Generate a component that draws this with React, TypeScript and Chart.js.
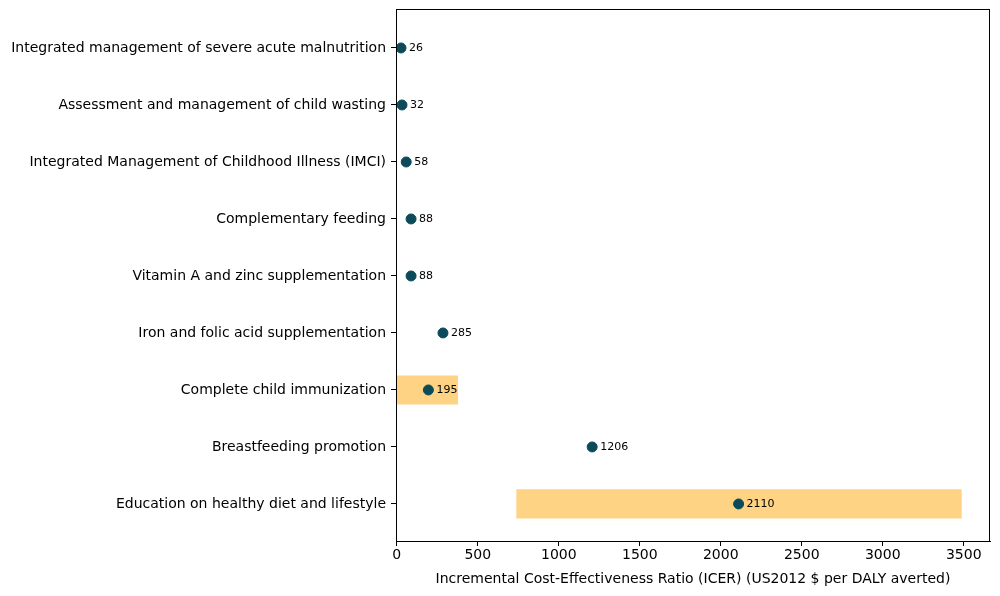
import React, { useEffect, useRef } from "react";
import { Chart, registerables } from "chart.js";

Chart.register(...registerables);

const categories = [
  "Integrated management of severe acute malnutrition",
  "Assessment and management of child wasting",
  "Integrated Management of Childhood Illness (IMCI)",
  "Complementary feeding",
  "Vitamin A and zinc supplementation",
  "Iron and folic acid supplementation",
  "Complete child immunization",
  "Breastfeeding promotion",
  "Education on healthy diet and lifestyle",
];
const icerValues = [26, 32, 58, 88, 88, 285, 195, 1206, 2110];
// uncertainty ranges (only where shown)
const rangeLow = [null, null, null, null, null, null, 0, null, 740];
const rangeHigh = [null, null, null, null, null, null, 376, null, 3485];
const xTicks = [0, 500, 1000, 1500, 2000, 2500, 3000, 3500];

const FONT = "'DejaVu Sans', sans-serif";

export default function App() {
  const ref = useRef<HTMLCanvasElement | null>(null);
  useEffect(() => {
    if (!ref.current) return;
    const rangeData = categories
      .map((_, i) => (rangeLow[i] !== null ? { y: i, x: [rangeLow[i], rangeHigh[i]] } : null))
      .filter((d) => d !== null);
    const pointData = icerValues.map((v, i) => ({ x: v, y: i }));

    const labelPlugin = {
      id: "valueLabels",
      afterDatasetsDraw(chart: any) {
        const meta = chart.getDatasetMeta(1);
        const ctx = chart.ctx;
        ctx.save();
        ctx.font = `11px ${FONT}`;
        ctx.fillStyle = "#000";
        ctx.textBaseline = "middle";
        ctx.textAlign = "left";
        meta.data.forEach((el: any, i: number) => {
          ctx.fillText(String(icerValues[i]), el.x + 8, el.y + 0.5);
        });
        ctx.restore();
      },
    };
    const framePlugin = {
      id: "frame",
      afterDraw(chart: any) {
        const { ctx, chartArea } = chart;
        ctx.save();
        ctx.strokeStyle = "#000";
        ctx.lineWidth = 1;
        ctx.strokeRect(chartArea.left + 0.5, chartArea.top + 0.5, chartArea.right - chartArea.left - 1, chartArea.bottom - chartArea.top);
        ctx.restore();
      },
    };

    const chart = new Chart(ref.current, {
      type: "bar",
      data: {
        datasets: [
          {
            type: "bar",
            indexAxis: "y",
            data: rangeData as any,
            backgroundColor: "#fed383",
            borderWidth: 0,
            barThickness: 28.5,
            order: 2,
          } as any,
          {
            type: "scatter",
            data: pointData,
            backgroundColor: "#0b4a5a",
            borderColor: "#0b4a5a",
            pointRadius: 5,
            pointHoverRadius: 5,
            order: 1,
          } as any,
        ],
      },
      options: {
        animation: false,
        responsive: false,
        indexAxis: "y",
        layout: { padding: { left: 0, right: 10, top: 9, bottom: 8 } },
        plugins: { legend: { display: false }, tooltip: { enabled: false } },
        scales: {
          x: {
            type: "linear",
            min: -5,
            max: 3662,
            offset: false,
            afterBuildTicks: (s: any) => {
              s.ticks = xTicks.map((v) => ({ value: v }));
            },
            afterFit: (s: any) => {
              s.height = 47;
              s.paddingLeft = 0;
              s.paddingRight = 0;
            },
            grid: { drawOnChartArea: false, drawTicks: true, tickLength: 5, color: "#000" },
            border: { color: "#000" },
            ticks: {
              color: "#000",
              font: { family: FONT, size: 14 },
              padding: 1,
              maxRotation: 0,
              callback: (v: any) => String(v),
            },
            title: {
              display: true,
              text: "Incremental Cost-Effectiveness Ratio (ICER) (US2012 $ per DALY averted)",
              color: "#000",
              font: { family: FONT, size: 14 },
              padding: { top: 0, bottom: 0 },
            },
          },
          y: {
            type: "linear",
            reverse: true,
            offset: false,
            min: -0.684,
            max: 8.65,
            afterBuildTicks: (s: any) => {
              s.ticks = categories.map((_, i) => ({ value: i }));
            },
            afterFit: (s: any) => {
              s.width = 396;
              s.paddingTop = 0;
              s.paddingBottom = 0;
            },
            grid: { drawOnChartArea: false, drawTicks: true, tickLength: 5, color: "#000", offset: false },
            border: { color: "#000" },
            ticks: {
              color: "#000",
              font: { family: FONT, size: 14 },
              padding: 5,
              autoSkip: false,
              callback: (v: any) => categories[v as number] ?? "",
            },
          },
        },
      } as any,
      plugins: [labelPlugin, framePlugin],
    });
    return () => chart.destroy();
  }, []);

  return (
    <div style={{ position: "absolute", left: 0, top: 0, width: 1000, height: 596, background: "#fff" }}>
      <canvas ref={ref} width={1000} height={596} style={{ width: 1000, height: 596 }} />
    </div>
  );
}
